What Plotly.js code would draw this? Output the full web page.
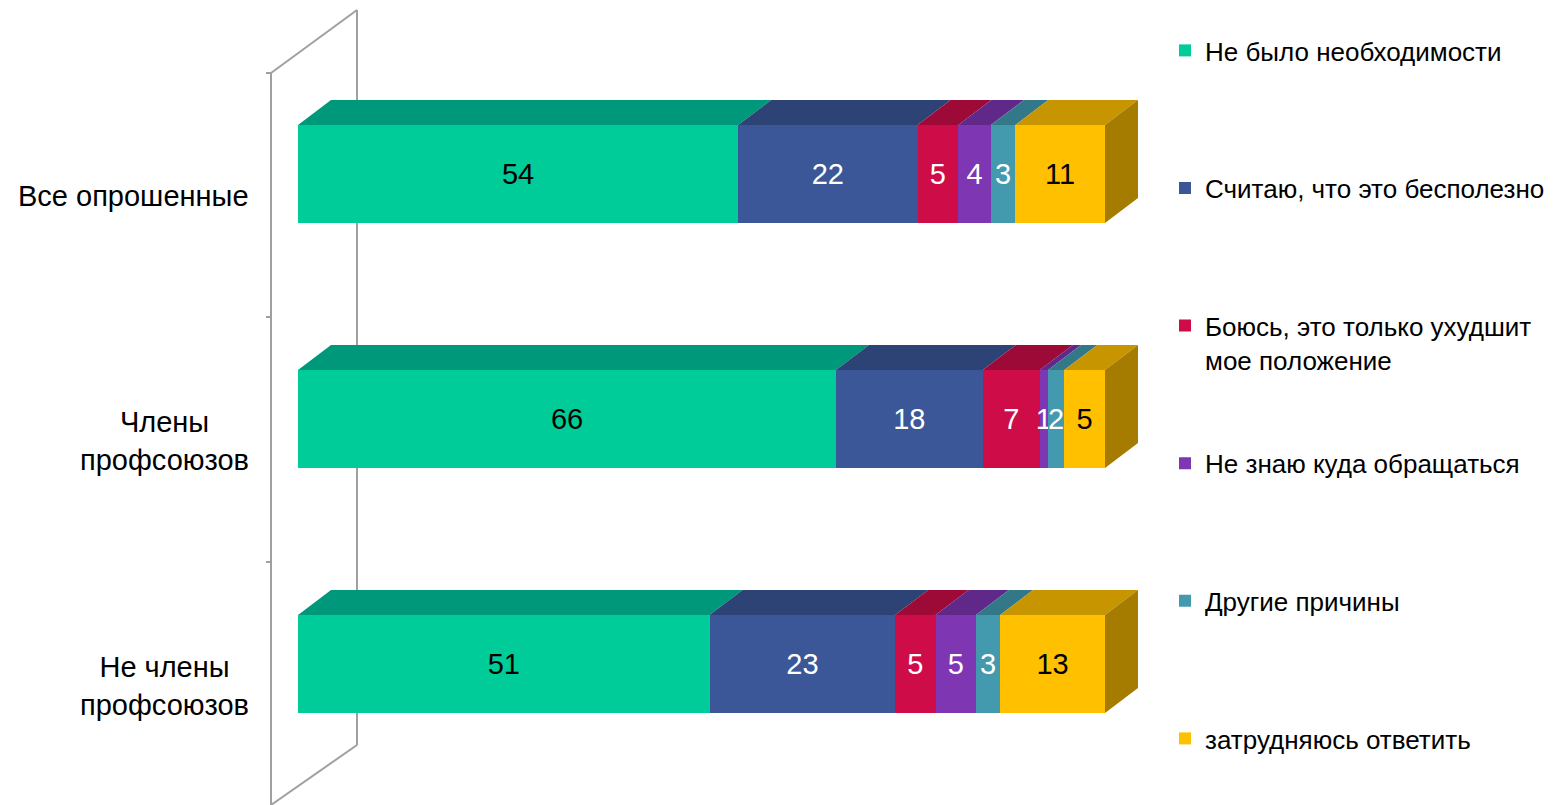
<!DOCTYPE html>
<html><head><meta charset="utf-8">
<script src="https://cdn.plot.ly/plotly-3.0.1.min.js"></script>
<style>html,body{margin:0;padding:0;background:#fff}</style>
</head><body><div id="chart" style="width:1559px;height:805px"></div>
<script>
// ---- data ----
const categories = ["Все опрошенные", "Члены<br>профсоюзов", "Не члены<br>профсоюзов"];
const seriesNames = ["Не было необходимости", "Считаю, что это бесполезно", "Боюсь, это только ухудшит<br>мое положение", "Не знаю куда обращаться", "Другие причины", "затрудняюсь ответить"];
const noNeed    = [54, 66, 51];
const useless   = [22, 18, 23];
const afraid    = [5, 7, 5];
const dontKnow  = [4, 1, 5];
const other     = [3, 2, 3];
const hardToSay = [11, 5, 13];

// ---- style ----
const frontColors = ["#00CC99", "#3B5797", "#CE0C48", "#7E36B3", "#4399AE", "#FFC000"];
const topColors   = ["#00987A", "#2D4275", "#9E0A37", "#602889", "#337888", "#C69500"];
const sideColor   = "#A67C00";
const textColors  = ["#000", "#fff", "#fff", "#fff", "#fff", "#000"];
const FONT = "Liberation Sans, Arial, sans-serif";
const W = 1559, H = 805;
const pxPerX = 8.07, pxPerY = 245;
const x0px = 298, y0px = 174;
const barWidth = 0.4;
const depthX = 33 / pxPerX, depthY = 25 / pxPerY;

const series = [noNeed, useless, afraid, dontKnow, other, hardToSay];
const yIdx = categories.map((c, i) => i);
const totals = yIdx.map(i => series.reduce((s, arr) => s + arr[i], 0));
const legendIds = series.map((a, k) => k === 0 ? 'legend' : 'legend' + (k + 1));

const traces = [];
// front faces
series.forEach((arr, k) => {
  traces.push({
    type: 'bar', orientation: 'h', name: seriesNames[k],
    x: arr, y: yIdx, width: barWidth,
    text: arr.map(String), texttemplate: '%{text}',
    textposition: 'inside', insidetextanchor: 'middle', textangle: 0,
    textfont: {family: FONT, size: 29, color: textColors[k]},
    marker: {color: frontColors[k], line: {width: 0}},
    legend: legendIds[k], hoverinfo: 'skip'
  });
});
// top faces (computed from the normalized stack)
series.forEach((arr, k) => {
  const xs = [], ys = [];
  yIdx.forEach(i => {
    let start = 0;
    for (let j = 0; j < k; j++) start += series[j][i];
    const a = start / totals[i] * 100, b = (start + arr[i]) / totals[i] * 100;
    const top = i - barWidth / 2;
    xs.push(a, b, b + depthX, a + depthX, a, null);
    ys.push(top, top, top - depthY, top - depthY, top, null);
  });
  traces.push({type: 'scatter', mode: 'lines', x: xs, y: ys, fill: 'toself',
    fillcolor: topColors[k], line: {width: 0}, showlegend: false, hoverinfo: 'skip'});
});
// right end faces
{
  const xs = [], ys = [];
  yIdx.forEach(i => {
    const e = 100, top = i - barWidth / 2, bot = i + barWidth / 2;
    xs.push(e, e + depthX, e + depthX, e, e, null);
    ys.push(top, top - depthY, bot - depthY, bot, top, null);
  });
  traces.push({type: 'scatter', mode: 'lines', x: xs, y: ys, fill: 'toself',
    fillcolor: sideColor, line: {width: 0}, showlegend: false, hoverinfo: 'skip'});
}

const px = v => v / W, py = v => 1 - v / H;
const wall = {color: '#A0A0A0', width: 2};
const shapes = [
  {type: 'line', xref: 'paper', yref: 'paper', x0: px(271), y0: py(73), x1: px(271), y1: py(810), line: wall, layer: 'below'},
  {type: 'line', xref: 'paper', yref: 'paper', x0: px(357), y0: py(10), x1: px(357), y1: py(745), line: wall, layer: 'below'},
  {type: 'line', xref: 'paper', yref: 'paper', x0: px(271), y0: py(73), x1: px(357), y1: py(10), line: wall, layer: 'below'},
  {type: 'line', xref: 'paper', yref: 'paper', x0: px(271), y0: py(805), x1: px(357), y1: py(745), line: wall, layer: 'below'},
  {type: 'line', xref: 'paper', yref: 'paper', x0: px(266), y0: py(73), x1: px(271), y1: py(73), line: wall, layer: 'below'},
  {type: 'line', xref: 'paper', yref: 'paper', x0: px(266), y0: py(317), x1: px(271), y1: py(317), line: wall, layer: 'below'},
  {type: 'line', xref: 'paper', yref: 'paper', x0: px(266), y0: py(562), x1: px(271), y1: py(562), line: wall, layer: 'below'}
];

const annotations = categories.map((c, i) => ({
  text: c, xref: 'paper', yref: 'y', x: px(251), y: i, yshift: -22,
  xanchor: 'right', yanchor: 'middle', align: 'center', showarrow: false,
  font: {family: FONT, size: 29, color: '#000'}
}));

const layout = {
  width: W, height: H, margin: {l: 0, r: 0, t: 0, b: 0, pad: 0},
  paper_bgcolor: '#fff', plot_bgcolor: 'rgba(0,0,0,0)',
  barmode: 'stack', barnorm: 'percent',
  xaxis: {range: [-x0px / pxPerX, (W - x0px) / pxPerX], visible: false, fixedrange: true},
  yaxis: {range: [2 + (H - (y0px + 2 * pxPerY)) / pxPerY, -y0px / pxPerY], visible: false, fixedrange: true},
  showlegend: true,
  uniformtext: {mode: 'show', minsize: 29},
  font: {family: FONT},
  shapes: shapes, annotations: annotations
};
legendIds.forEach((id, k) => {
  layout[id] = {x: px(1165), xanchor: 'left', y: py(27 + 137.6 * k), yanchor: 'top',
    valign: 'top', bgcolor: 'rgba(0,0,0,0)',
    font: {family: FONT, size: 26, color: '#000'}};
});

Plotly.newPlot('chart', traces, layout, {displayModeBar: false, staticPlot: true});
</script></body></html>
